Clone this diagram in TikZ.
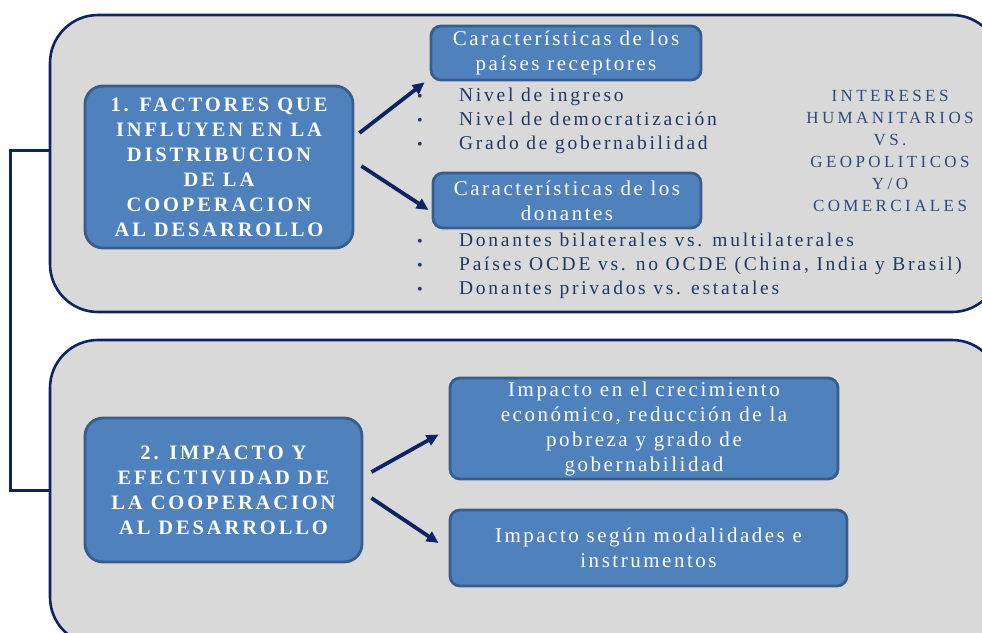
\documentclass[tikz,border=0pt]{standalone}
\usepackage{fontspec}
\setmainfont[LetterSpace=14]{Liberation Serif}
\usepackage{xcolor}
\usetikzlibrary{arrows.meta, positioning}
\definecolor{navy}{HTML}{0C2463}
\definecolor{panelgray}{HTML}{D9D9D9}
\definecolor{boxblue}{HTML}{4F81BD}
\definecolor{boxedge}{HTML}{385D8A}
\definecolor{itemtext}{HTML}{1F3864}
\definecolor{sidetext}{HTML}{2E4A7A}

\begin{document}
\begin{tikzpicture}[x=1pt, y=-1pt,
  panel/.style={draw=navy, line width=2.6pt, fill=panelgray, rounded corners=48pt},
  titlebox/.style={draw=boxedge, line width=2.8pt, fill=boxblue, rounded corners=18pt,
    text=white, font=\fontsize{20.5}{25}\selectfont\addfontfeature{LetterSpace=14}\bfseries,
    align=center, inner sep=0pt},
  subbox/.style={draw=boxedge, line width=2.8pt, fill=boxblue, rounded corners=10pt,
    text=white, font=\fontsize{21}{25}\selectfont\addfontfeature{LetterSpace=12},
    align=center, inner sep=0pt},
  item/.style={anchor=base west, text=itemtext, font=\fontsize{19.5}{20}\selectfont, inner sep=0pt},
  dot/.style={anchor=base, text=itemtext, font=\fontsize{16}{16}\selectfont, inner sep=0pt},
  link/.style={navy, line width=3.8pt, -{Triangle[length=12pt, width=11pt]}}]
  \clip (0,0) rectangle (982,632);

  % two grey panels
  \node[panel, minimum width=950pt, minimum height=297pt] (p1) at (525,163.5) {};
  \node[panel, minimum width=950pt, minimum height=305pt] (p2) at (525,492.5) {};

  % link between panels
  \draw[navy, line width=2.6pt] ([yshift=13pt]p1.west) -- ++(-38,0) |- ([yshift=2pt]p2.west);

  % upper panel
  \node[titlebox, minimum width=268pt, minimum height=162pt] (fac) at (219,167)
    {1. FACTORES QUE\\INFLUYEN EN LA\\DISTRIBUCION\\DE LA\\COOPERACION\\AL DESARROLLO};
  \node[subbox, minimum width=270pt, minimum height=54pt] (rec) at (566,53)
    {Características de los\\países receptores};
  \node[subbox, minimum width=268pt, minimum height=55pt] (don) at (567,200.5)
    {Características de los\\donantes};

  \foreach \t [count=\i] in {Nivel de ingreso, Nivel de democratización, Grado de gobernabilidad}
    \node[item] (r\i) at (459,{77+24*\i}) {\t};
  \foreach \t [count=\i] in {Donantes bilaterales vs. multilaterales,
      {Países OCDE vs. no OCDE (China, India y Brasil)}, Donantes privados vs. estatales}
    \node[item] (d\i) at (459,{222+24*\i}) {\t};
  \foreach \y [count=\i] in {101,125,149,246,270,294}
    \node[dot] (b\i) at (420,\y) {•};

  \node[text=sidetext, font=\fontsize{17}{22}\selectfont\addfontfeature{LetterSpace=20},
    align=center] (int) at (890,151)
    {INTERESES\\HUMANITARIOS\\VS.\\GEOPOLITICOS\\Y/O\\COMERCIALES};

  \draw[link] ([shift={(5pt,34pt)}]fac.east) -- ([shift={(-5pt,-1pt)}]rec.south west);
  \draw[link] ([shift={(7pt,1pt)}]fac.east) -- ([shift={(-3pt,-9.5pt)}]don.west);

  % lower panel
  \node[titlebox, minimum width=277pt, minimum height=144pt] (imp) at (223.5,490)
    {2. IMPACTO Y\\EFECTIVIDAD DE\\LA COOPERACION\\AL DESARROLLO};
  \node[subbox, minimum width=388pt, minimum height=101pt] (cre) at (644,428.5)
    {Impacto en el crecimiento\\económico, reducción de la\\pobreza y grado de\\gobernabilidad};
  \node[subbox, minimum width=397pt, minimum height=76pt] (mod) at (648.5,548)
    {Impacto según modalidades e\\instrumentos};

  \draw[link] ([shift={(8pt,18pt)}]imp.east) -- ([shift={(-10pt,-6pt)}]cre.west);
  \draw[link] ([shift={(8pt,-8pt)}]imp.east) -- ([shift={(-10pt,5pt)}]mod.west);
\end{tikzpicture}
\end{document}
